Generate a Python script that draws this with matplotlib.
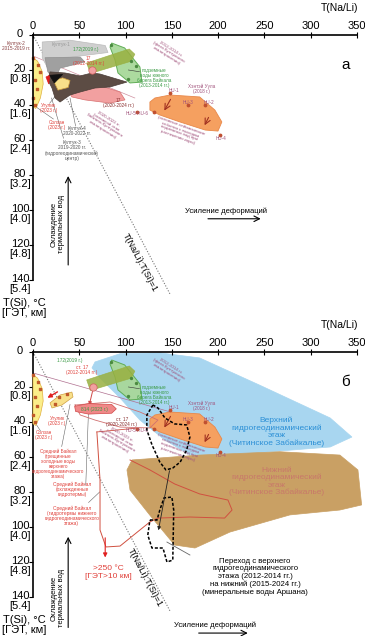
import numpy as np
import matplotlib.pyplot as plt
from matplotlib.patches import Polygon

plt.rcParams['font.family'] = ['Liberation Sans', 'DejaVu Sans']

# axes
x_ticks = [0, 50, 100, 150, 200, 250, 300, 350]
y_ticks = [0, 20, 40, 60, 80, 100, 120, 140]
y_labels = ['0', '20\n[0.8]', '40\n[1.6]', '60\n[2.4]', '80\n[3.2]',
            '100\n[4.0]', '120\n[4.8]', '140\n[5.4]']

# contours in (T(Na/Li), T(Si)) units
solzan = [(0, 13), (5, 15), (10, 21), (11, 28), (8, 36), (3, 42), (0, 41)]
solzan_px = [0, 5, 8, 2, 4, 0, 2]
solzan_py = [13, 17, 21, 26, 31, 36, 40]
kultuk1 = [(10, 4), (40, 3), (78, 6), (81, 10), (51, 12), (24, 14), (16, 19), (10, 13)]
kultuk2 = [(13, 13), (51, 12.6), (56, 15.4), (29, 19), (24, 26), (16, 21)]
kultuk3 = [(18.4, 21.1), (34.6, 21.7), (50.8, 23.4), (63.7, 21.7), (72.4, 22.3),
           (101.5, 26.9), (83.2, 29.7), (67, 30.3), (50.8, 32.6), (40, 34.3),
           (29.2, 38.3), (23.8, 36), (20.5, 30.3), (16, 25.7)]
st17_new = [(34.6, 29.1), (67, 28), (94, 32.6), (99.4, 37.1), (83.2, 38.9),
            (56.2, 37.1), (42, 35.4)]
kultuk4_red = [(14, 24), (18, 23), (17, 28)]
kultuk4_blk = [(18, 23), (32, 22.5), (23, 27.5)]
utulik_a = [(22, 26), (32, 24.5), (40, 26), (38, 30), (27, 31.5)]
olive = [(58, 16), (104, 8), (110, 11), (106, 15), (62, 22)]
green = [(85, 4.6), (99, 7.4), (115.5, 18.3), (117.7, 26.9), (104.8, 27.4),
         (91.8, 21.7), (88.6, 14.3), (83.2, 6.9)]
orange = [(131.7, 36), (148, 34.3), (180, 35.4), (196.5, 42.9), (204, 49.7),
          (199.8, 54.9), (186, 54.3), (158.8, 49.7), (137, 45.7), (126.3, 42.9),
          (126.3, 38.3)]
hu_x = [148, 167, 186, 202, 112, 131]
hu_y = [33, 40, 40, 57, 44, 44]

# panel б
upper_stage = [(67, 5.7), (94, 1), (137, 0.5), (180, 3.4), (245, 19), (321, 37.7),
               (344.5, 48.6), (321, 54.3), (256, 57), (202, 60), (169.5, 58.9),
               (142.5, 50.3), (115.5, 38.9), (94, 26.3), (72.4, 14.9), (63.7, 9.1)]
lower_stage = [(107, 61.7), (180, 58.9), (266.7, 57), (331.5, 58.9), (351, 67.4),
               (355, 87.4), (331.5, 90.3), (277.5, 93.1), (212.7, 102.9), (175, 112),
               (153, 110.3), (126, 93.1), (104.8, 78.9), (101.5, 67.4)]
utulik_b = [(18.4, 29.1), (29.2, 24.6), (42, 22.9), (43.2, 25.7), (31.3, 30.3), (20.5, 32)]
pink814 = [(45, 31), (60, 29.5), (85, 30), (90, 32.5), (85, 35), (60, 35.5), (46, 34)]
st17_outline = [(45.4, 30.3), (83.2, 28.6), (115.5, 34.3), (135, 38.9), (126.3, 43.4),
                (94, 42.9), (67, 38.9), (51, 36), (45.4, 30.3)]
deep_path = [(69, 45.7), (72.4, 73.1), (72.4, 101.7), (78.8, 111.4), (94, 110.9),
             (115.5, 101.7), (126.3, 97.1), (135, 94.9), (169.5, 94.3), (207, 94.9),
             (215, 90.3), (210.6, 84.6), (180, 81.1), (153, 75.4), (126.3, 67.4),
             (104.8, 61.7)]
loop_upper = [(129.6, 30.3), (123, 36), (123, 44.6), (128.5, 53), (137, 62.9),
              (143.6, 67.4), (151, 66.3), (159, 62.9), (166, 56), (169.5, 48.6),
              (166, 41.7), (153, 41.1), (142.5, 37.7), (135, 32), (129.6, 30.3)]
loop_lower = [(126.3, 96), (134, 96), (137, 90.3), (141.5, 83.4), (150, 82.9),
              (152, 90.3), (151, 118.9), (144.7, 120), (140.4, 112), (128.5, 112),
              (124, 104.6), (126.3, 96)]

fig = plt.figure(figsize=(3.65, 6.36), dpi=100)
ax_a = fig.add_axes([0.0904, 0.5597, 0.8877, 0.3853])
ax_b = fig.add_axes([0.0904, 0.0613, 0.8877, 0.3853])

green_t = '#3a9a44'
red_t = '#e0403a'
purple_t = '#a0507a'
gray_t = '#555555'


def frame(ax, letter):
    ax.set_xlim(0, 350)
    ax.set_ylim(140, 0)
    for s in ['right', 'bottom']:
        ax.spines[s].set_visible(False)
    ax.spines['left'].set_linewidth(1.2)
    ax.spines['top'].set_linewidth(1.2)
    ax.xaxis.tick_top()
    ax.set_xticks(x_ticks)
    ax.tick_params(axis='x', direction='inout', length=4, labelsize=8, pad=1)
    ax.set_yticks(y_ticks)
    ax.set_yticklabels([])
    ax.tick_params(axis='y', direction='out', length=3)
    for v, lab in zip(y_ticks, y_labels):
        ax.text(-14, v - 3.3, lab, ha='center', va='top', fontsize=8,
                linespacing=1.0, clip_on=False)
    ax.text(331, -15.5, 'T(Na/Li)', ha='center', va='center', fontsize=7.5)
    ax.text(-9, 150, 'T(Si), °C\n[ГЭТ, км]', ha='center', va='top', fontsize=8,
            linespacing=1.1, clip_on=False)
    ax.text(338, 17, letter, ha='center', va='center', fontsize=11)
    ax.plot([0, 148], [0, 148], ls=(0, (1, 1.5)), color='#777777', lw=0.8,
            clip_on=False)


def patch(ax, pts, fc, ec, alpha=1.0, lw=0.5, z=2):
    ax.add_patch(Polygon(pts, closed=True, fc=fc, ec=ec, alpha=alpha, lw=lw,
                         zorder=z, clip_on=False))


def shared(ax, z=3):
    patch(ax, green, '#a8d89a', '#5aaa50', alpha=0.95, lw=0.7, z=z)
    patch(ax, olive, '#98b040', '#98b040', alpha=0.85, z=z + 0.1)
    patch(ax, orange, '#f5a060', '#e8884a', lw=0.6, z=z)
    ax.scatter(hu_x, hu_y, s=3, color='#c05030', zorder=z + 0.5)
    ax.scatter([84, 111, 103, 106], [6, 18, 25, 15], s=2, color='#4a8a40', zorder=z + 0.5)
    ax.annotate('', xy=(140.4, 44.6), xytext=(150, 35.4),
                arrowprops=dict(arrowstyle='->', color='#a03020', lw=0.8), zorder=z + 1)
    ax.annotate('', xy=(184, 53), xytext=(191, 45.7),
                arrowprops=dict(arrowstyle='->', color='#a03020', lw=0.8), zorder=z + 1)
    ax.text(131, 24.5, 'подземные\nводы южного\nберега Байкала\n(2013-2014 гг.)',
            color=green_t, fontsize=3.3, ha='center', va='center', linespacing=1.0, zorder=6)
    ax.plot([103, 115], [20, 21], color='#333333', lw=0.4, zorder=6)
    ax.text(182, 31, 'Хэнтэй Уула\n(2018 г.)', color=purple_t, fontsize=3.3,
            ha='center', va='center', linespacing=1.0, zorder=6)
    for nx, ny, nm in [(152, 32, 'HU-1'), (167, 38.5, 'HU-3'), (190, 38.5, 'HU-2'),
                       (203, 59, 'HU-4'), (113, 45, 'HU-5-HU-6')]:
        ax.text(nx, ny, nm, color=purple_t, fontsize=3.3, ha='center', va='center', zorder=6)
    ax.text(158, 55, '(основные сейсмические\nсобытия с выходом\nподземных вод при\nрастяжении коры)',
            color=purple_t, fontsize=3.2, ha='center', va='center', rotation=-20,
            linespacing=1.0, zorder=6)
    ax.text(146, 10, '2012-2014 гг.\n(фаза Култукского\nземлетрясения)',
            color=purple_t, fontsize=3.2, ha='center', va='center', rotation=-32,
            linespacing=1.0, zorder=6)


# ---------------- panel а ----------------
frame(ax_a, 'а')
ax_a.plot([0, 110], [12, 36], color='#d090a0', lw=0.5, zorder=1)
patch(ax_a, kultuk1, '#cfcfcf', '#bbbbbb', z=2)
patch(ax_a, kultuk2, '#a0a0a0', '#909090', z=2.1)
patch(ax_a, st17_new, '#f2a0a0', '#d87070', z=2.2)
patch(ax_a, kultuk3, '#5c4c44', '#4a3c36', z=2.3)
patch(ax_a, solzan, '#fbee8a', '#e0b040', z=2.4)
ax_a.scatter(solzan_px, solzan_py, marker='s', s=4, color='#c05a2a', zorder=2.5, clip_on=False)
patch(ax_a, utulik_a, '#f8e08a', '#d0a040', z=2.5)
patch(ax_a, kultuk4_red, '#e02020', '#e02020', z=2.6)
patch(ax_a, kultuk4_blk, '#111111', '#111111', z=2.6)
ax_a.scatter([64], [20], s=28, color='#f2a0a0', edgecolor='#d06060', lw=0.5, zorder=4)
shared(ax_a)
ax_a.text(-18, 6.5, 'Култук-2\n2015-2019 гг.', color='#8a4040', fontsize=3.4,
          ha='center', va='center', linespacing=1.0, clip_on=False)
ax_a.text(30, 5.5, 'Култук-1', color='#999999', fontsize=3.4, ha='center', va='center')
ax_a.text(57, 8.5, '172(2019 г.)', color=green_t, fontsize=3.4, ha='center', va='center')
ax_a.text(60, 15, '17\n(2012-2014 гг.)', color=red_t, fontsize=3.4, ha='center',
          va='center', linespacing=1.0, zorder=6)
ax_a.text(92, 39, '17\n(2020-2024 гг.)', color='#8a3030', fontsize=3.4, ha='center',
          va='center', linespacing=1.0, zorder=6)
ax_a.text(78, 51, '2020-2023 гг.\n(основной этап\nБайкало-Култукского\nземлетрясения)',
          color=purple_t, fontsize=3.2, ha='center', va='center', rotation=-32,
          linespacing=1.0, zorder=6)
ax_a.text(17, 42, 'Утулик\n(2023 г.)', color=red_t, fontsize=3.4, ha='center',
          va='center', linespacing=1.0)
ax_a.text(26, 51.5, 'Солзан\n(2023 г.)', color=red_t, fontsize=3.4, ha='center',
          va='center', linespacing=1.0)
ax_a.text(48, 55, 'Култук-4\n2020-2022 гг.', color=gray_t, fontsize=3.4, ha='center',
          va='center', linespacing=1.0)
ax_a.text(42, 66, 'Култук-3\n2019-2020 гг.\n(гидрогеодинамический\nцентр)', color=gray_t,
          fontsize=3.4, ha='center', va='center', linespacing=1.0)
for (x0, y0), (x1, y1) in [((3, 41), (22, 48)), ((30, 31), (18, 39)),
                           ((40, 36), (46, 52)), ((20, 36), (33, 59))]:
    ax_a.plot([x0, x1], [y0, y1], color='#666666', lw=0.4)
ax_a.annotate('', xy=(38, 79), xytext=(38, 133),
              arrowprops=dict(arrowstyle='->', color='black', lw=0.8))
ax_a.text(27, 108, 'Охлаждение\nтермальных вод', rotation=90, fontsize=5.5,
          ha='center', va='center', linespacing=1.2)
ax_a.text(208, 100.5, 'Усиление деформаций', fontsize=5.5, ha='center', va='center')
ax_a.annotate('', xy=(249, 105), xytext=(186, 105),
              arrowprops=dict(arrowstyle='->', color='black', lw=0.8))
ax_a.text(116, 130, 'T(Na/Li):T(Si)=1', rotation=-62, fontsize=6.5,
          ha='center', va='center', clip_on=False)

# ---------------- panel б ----------------
frame(ax_b, 'б')
patch(ax_b, upper_stage, '#a8d6f0', '#a8d6f0', z=1)
patch(ax_b, lower_stage, '#c9a064', '#c9a064', z=1.2)
ax_b.plot([0, 180], [12, 39], color='#b07090', lw=0.5, zorder=1.5)
shared(ax_b, z=2)
ax_b.plot(*zip(*deep_path), color='#d05040', lw=0.7, zorder=3)
ax_b.plot([69, 112], [45.7, 43.5], color='#d05040', lw=0.6, zorder=3)
ax_b.plot(*zip(*st17_outline), color='#d07070', lw=0.6, zorder=3)
patch(ax_b, pink814, '#f08888', '#d04848', z=3.5)
patch(ax_b, solzan, '#fbee8a', '#e0b040', z=3.5)
ax_b.scatter(solzan_px, solzan_py, marker='s', s=4, color='#c05a2a', zorder=3.6, clip_on=False)
patch(ax_b, utulik_b, '#f8e08a', '#d0a040', z=3.5)
ax_b.scatter([28, 37, 24], [26, 24, 30], marker='s', s=3, color='#c05a2a', zorder=3.6)
ax_b.scatter([65], [20], s=28, color='#f2a0a0', edgecolor='#d06060', lw=0.5, zorder=4)
ax_b.annotate('', xy=(13, 27), xytext=(29, 22),
              arrowprops=dict(arrowstyle='-|>', color='#e02020', lw=1.0, mutation_scale=6))
ax_b.annotate('', xy=(60, 32), xytext=(65, 21),
              arrowprops=dict(arrowstyle='-|>', color='#d04848', lw=0.7, mutation_scale=5))
ax_b.plot(*zip(*loop_upper), color='black', lw=1.1, ls=(0, (2, 1.2)), zorder=7)
ax_b.plot(*zip(*loop_lower), color='black', lw=1.1, ls=(0, (2, 1.2)), zorder=7)
ax_b.annotate('', xy=(135, 103.4), xytext=(148, 66.3),
              arrowprops=dict(arrowstyle='-|>', color='#222222', lw=0.6, mutation_scale=5),
              zorder=7)
ax_b.plot([144.7, 169.5], [108.6, 116], color='#666666', lw=0.6, zorder=7)
ax_b.annotate('', xy=(78, 119), xytext=(78, 104.6),
              arrowprops=dict(arrowstyle='-|>', color='#e02020', lw=0.8, mutation_scale=6))
ax_b.text(81, 126, '>250 °C\n[ГЭТ>10 км]', color=red_t, fontsize=6, ha='center',
          va='center', linespacing=1.1)

ax_b.text(263, 45.5, 'Верхний\nгидрогеодинамический\nэтаж\n(Читинское Забайкалье)',
          color='#2b8fd6', fontsize=6, ha='center', va='center', linespacing=1.05, zorder=6)
ax_b.text(263, 74, 'Нижний\nгидрогеодинамический\nэтаж\n(Читинское Забайкалье)',
          color='#c8786a', fontsize=6, ha='center', va='center', linespacing=1.05, zorder=6)
ax_b.text(240, 128.5, 'Переход с верхнего\nгидрогеодинамического\nэтажа (2012-2014 гг.)\n'
          'на нижний (2015-2024 гг.)\n(минеральные воды Аршана)',
          fontsize=5.6, ha='center', va='center', linespacing=1.15)

ax_b.text(40, 4.6, '172(2019 г.)', color=green_t, fontsize=3.4, ha='center', va='center')
ax_b.text(53, 10.5, 'ст. 17\n(2012-2014 гг.)', color=red_t, fontsize=3.4, ha='center',
          va='center', linespacing=1.0)
ax_b.text(66, 33, '814 (2023 г.)', color=green_t, fontsize=3.4, ha='center', va='center', zorder=6)
ax_b.text(96, 40, 'ст. 17\n(2020-2024 гг.)', color='#8a3030', fontsize=3.4, ha='center',
          va='center', linespacing=1.0, zorder=6)
ax_b.text(92, 50, '2020-2023 гг.\n(основной этап\nБайкало-Култукского\nземлетрясения)',
          color=purple_t, fontsize=3.2, ha='center', va='center', rotation=-30,
          linespacing=1.0, zorder=6)
ax_b.text(26, 39.5, 'Утулик\n(2023 г.)', color=red_t, fontsize=3.4, ha='center',
          va='center', linespacing=1.0)
ax_b.text(12, 47.5, 'Солзан\n(2023 г.)', color=red_t, fontsize=3.4, ha='center',
          va='center', linespacing=1.0)
ax_b.text(27, 64, 'Средний Байкал\n(трещинные\nхолодные воды\nверхнего\n'
          'гидрогеодинамического\nэтажа)', color=red_t, fontsize=3.3, ha='center',
          va='center', linespacing=1.0)
ax_b.text(42, 78.5, 'Средний Байкал\n(охлажденные\nгидротермы)', color=red_t,
          fontsize=3.5, ha='center', va='center', linespacing=1.0)
ax_b.text(42, 93.5, 'Средний Байкал\n(гидротермы нижнего\nгидрогеодинамического\nэтажа)',
          color=red_t, fontsize=3.5, ha='center', va='center', linespacing=1.0)
for (x0, y0), (x1, y1) in [((31, 54), (40, 30)), ((57, 76), (60, 33)),
                           ((60, 86), (72, 80)), ((3, 41), (8, 45))]:
    ax_b.plot([x0, x1], [y0, y1], color='#666666', lw=0.4)

ax_b.annotate('', xy=(38, 104), xytext=(38, 159),
              arrowprops=dict(arrowstyle='->', color='black', lw=0.8), annotation_clip=False)
ax_b.text(27, 140.6, 'Охлаждение\nтермальных вод', rotation=90, fontsize=5.5,
          ha='center', va='center', linespacing=1.2, clip_on=False)
ax_b.text(197, 156, 'Усиление деформаций', fontsize=5.5, ha='center', va='center',
          clip_on=False)
ax_b.annotate('', xy=(235, 160.6), xytext=(176, 160.6),
              arrowprops=dict(arrowstyle='->', color='black', lw=0.8), annotation_clip=False)
ax_b.text(121, 129, 'T(Na/Li):T(Si)=1', rotation=-62, fontsize=6.5,
          ha='center', va='center', clip_on=False)

fig.savefig('out.png', dpi=100)
